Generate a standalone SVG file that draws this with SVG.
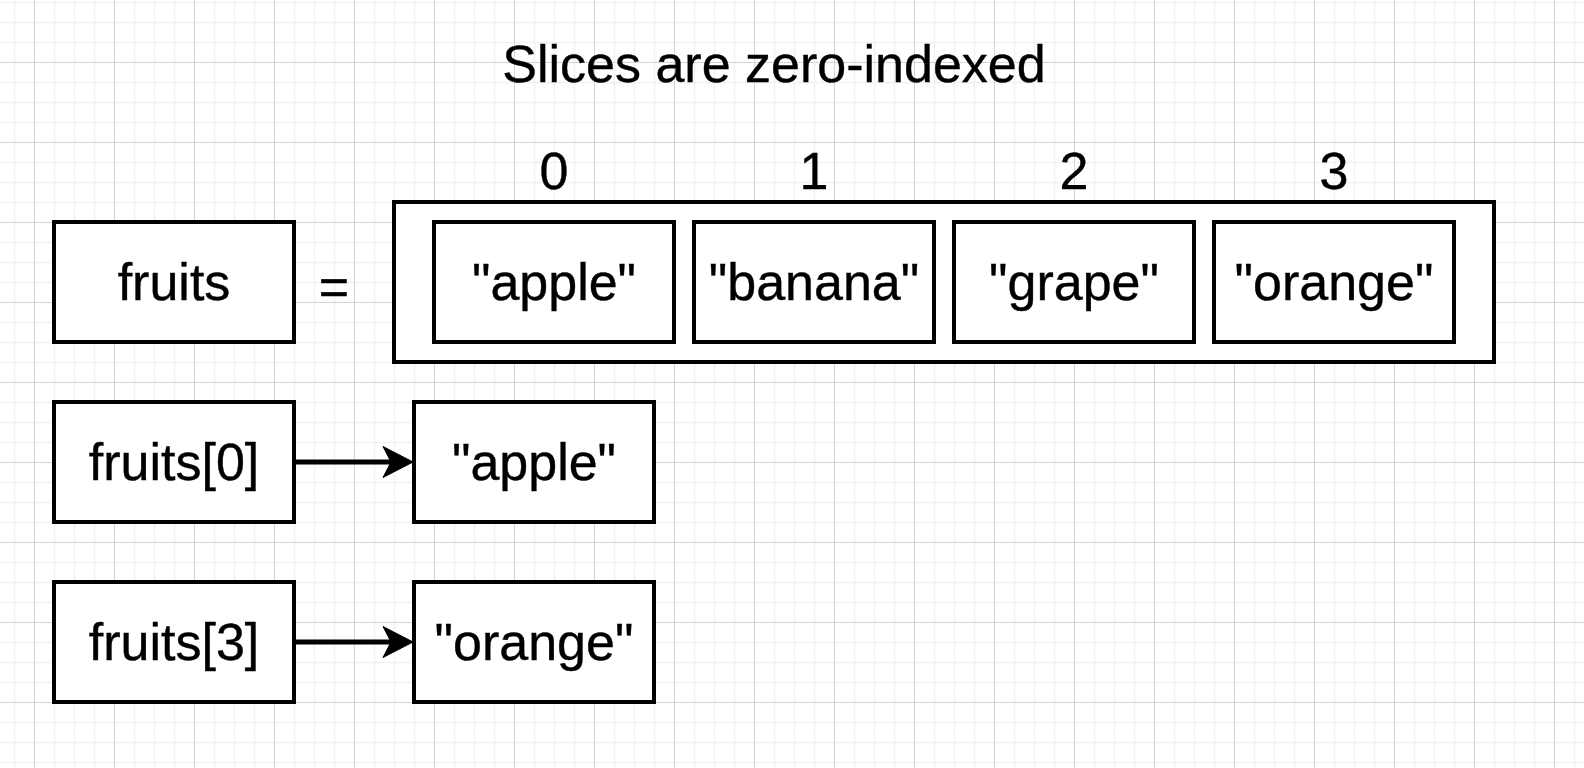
<svg xmlns="http://www.w3.org/2000/svg" width="1584" height="768" viewBox="0 0 1584 768">
  <style>
    .box { fill: #ffffff; stroke: #000000; stroke-width: 4; }
    .lbl { font-family: "Liberation Sans", Arial, Helvetica, sans-serif; font-size: 52px; fill: #000000; text-anchor: middle; stroke: #000000; stroke-width: 0.4; }
    .edge { stroke: #000000; stroke-width: 5; fill: none; }
    .head { fill: #000000; stroke: #000000; stroke-width: 1; stroke-linejoin: miter; }
  </style>
  <defs>
    <pattern id="grid" patternUnits="userSpaceOnUse" x="34" y="62" width="80" height="80">
      <rect width="80" height="80" fill="#ffffff"/>
      <g stroke="#f2f2f2" stroke-width="1.5">
        <line x1="20.5" y1="0" x2="20.5" y2="80"/>
        <line x1="40.5" y1="0" x2="40.5" y2="80"/>
        <line x1="60.5" y1="0" x2="60.5" y2="80"/>
        <line x1="0" y1="20.5" x2="80" y2="20.5"/>
        <line x1="0" y1="40.5" x2="80" y2="40.5"/>
        <line x1="0" y1="60.5" x2="80" y2="60.5"/>
      </g>
      <g stroke="#d4d4d4" stroke-width="1">
        <line x1="0.5" y1="0" x2="0.5" y2="80"/>
        <line x1="0" y1="0.5" x2="80" y2="0.5"/>
      </g>
    </pattern>
  </defs>
  <rect x="0" y="0" width="1584" height="768" fill="url(#grid)"/>

  <g id="title">
    <text class="lbl" x="774" y="82">Slices are zero-indexed</text>
  </g>

  <g id="indices">
    <text class="lbl" x="554" y="189">0</text>
    <text class="lbl" x="814" y="189">1</text>
    <text class="lbl" x="1074" y="189">2</text>
    <text class="lbl" x="1334" y="189">3</text>
  </g>

  <g id="fruits">
    <rect class="box" x="54" y="222" width="240" height="120"/>
    <text class="lbl" x="174" y="300">fruits</text>
  </g>

  <g id="equals">
    <text class="lbl" x="334" y="305">=</text>
  </g>

  <g id="slice">
    <rect class="box" x="394" y="202" width="1100" height="160"/>
  </g>

  <g id="elem0">
    <rect class="box" x="434" y="222" width="240" height="120"/>
    <text class="lbl" x="554" y="300">"apple"</text>
  </g>
  <g id="elem1">
    <rect class="box" x="694" y="222" width="240" height="120"/>
    <text class="lbl" x="814" y="300">"banana"</text>
  </g>
  <g id="elem2">
    <rect class="box" x="954" y="222" width="240" height="120"/>
    <text class="lbl" x="1074" y="300">"grape"</text>
  </g>
  <g id="elem3">
    <rect class="box" x="1214" y="222" width="240" height="120"/>
    <text class="lbl" x="1334" y="300">"orange"</text>
  </g>

  <g id="fruits0">
    <rect class="box" x="54" y="402" width="240" height="120"/>
    <text class="lbl" x="174" y="480">fruits[0]</text>
  </g>
  <g id="apple">
    <rect class="box" x="414" y="402" width="240" height="120"/>
    <text class="lbl" x="534" y="480">"apple"</text>
  </g>

  <g id="fruits3">
    <rect class="box" x="54" y="582" width="240" height="120"/>
    <text class="lbl" x="174" y="660">fruits[3]</text>
  </g>
  <g id="orange">
    <rect class="box" x="414" y="582" width="240" height="120"/>
    <text class="lbl" x="534" y="660">"orange"</text>
  </g>

  <g id="connectors">
    <line class="edge" x1="296" y1="462" x2="394" y2="462"/>
    <path class="head" d="M413,462 L383,446.5 L391,462 L383,477.5 Z"/>
    <line class="edge" x1="296" y1="642" x2="394" y2="642"/>
    <path class="head" d="M413,642 L383,626.5 L391,642 L383,657.5 Z"/>
  </g>
</svg>
